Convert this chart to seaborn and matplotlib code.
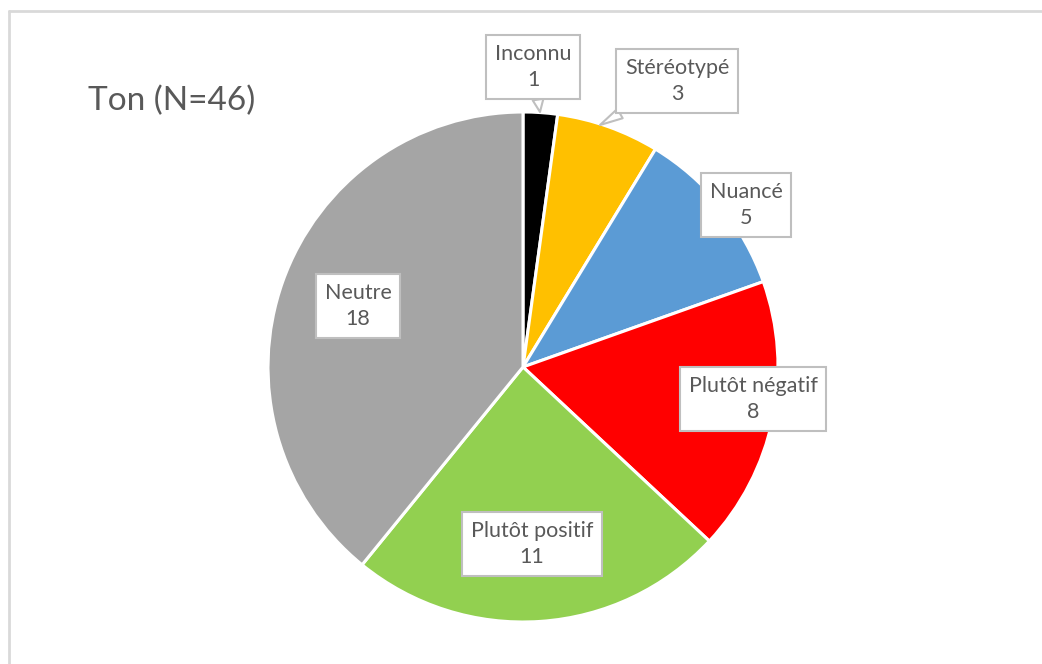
import matplotlib
matplotlib.use("Agg")
import matplotlib.pyplot as plt
from matplotlib.lines import Line2D
import seaborn as sns

categories = ["Inconnu", "Stéréotypé", "Nuancé", "Plutôt négatif", "Plutôt positif", "Neutre"]
counts = [1, 3, 5, 8, 11, 18]
colors = ["#000000", "#FFC000", "#5B9BD5", "#FF0000", "#92D050", "#A5A5A5"]
title = "Ton (N=46)"

sns.set_theme(style="white")
plt.rcParams["font.family"] = ["Lato", "DejaVu Sans"]

W, H = 1042, 664
fig = plt.figure(figsize=(W / 100, H / 100), dpi=100)
fig.patch.set_facecolor("white")

cx, cy, r = 523, 367, 255
ax = fig.add_axes([(cx - r) / W, (H - cy - r) / H, 2 * r / W, 2 * r / H])
wedges, _ = ax.pie(counts, colors=colors, startangle=90, counterclock=False, radius=1,
                   wedgeprops=dict(edgecolor="white", linewidth=2.2))
ax.set_xlim(-1, 1)
ax.set_ylim(-1, 1)
ax.set_aspect("equal")
ax.axis("off")

def d(px, py):
    return ((px - cx) / r, (cy - py) / r)

box = dict(boxstyle="square,pad=0.4", facecolor="white", edgecolor="#BFBFBF", linewidth=1.5)
txtcol = "#595959"
fs = 15.5
ls = 1.4

# label positions (pixel centres of boxes) and optional callout anchors
label_pos = [(533, 67), (677, 81), (746, 205), (753, 399), (532, 544), (358, 306)]
anchors = [(540, 112), (600, 125), None, None, None, None]

for cat, n, (px, py), anc in zip(categories, counts, label_pos, anchors):
    s = f"{cat}\n{n}"
    if anc is None:
        ax.text(*d(px, py), s, ha="center", va="center", fontsize=fs, color=txtcol,
                bbox=box, linespacing=ls, zorder=5)
    else:
        ax.annotate(s, xy=d(*anc), xytext=d(px, py), ha="center", va="center",
                    fontsize=fs, color=txtcol, bbox=box, linespacing=ls, zorder=5,
                    annotation_clip=False,
                    arrowprops=dict(arrowstyle="wedge,tail_width=0.5", fc="white",
                                    ec="#BFBFBF", lw=1.5, shrinkA=0, shrinkB=0))

fig.text(88 / W, 1 - 101 / H, title, ha="left", va="center", fontsize=24, color=txtcol)

# chart area frame (left and top edges visible)
fig.add_artist(Line2D([9 / W, 9 / W], [0, 1 - 11 / H], transform=fig.transFigure,
                      color="#D9D9D9", lw=2))
fig.add_artist(Line2D([9 / W, 1], [1 - 11 / H, 1 - 11 / H], transform=fig.transFigure,
                      color="#D9D9D9", lw=2))

fig.savefig("out.png", dpi=100, facecolor="white")
